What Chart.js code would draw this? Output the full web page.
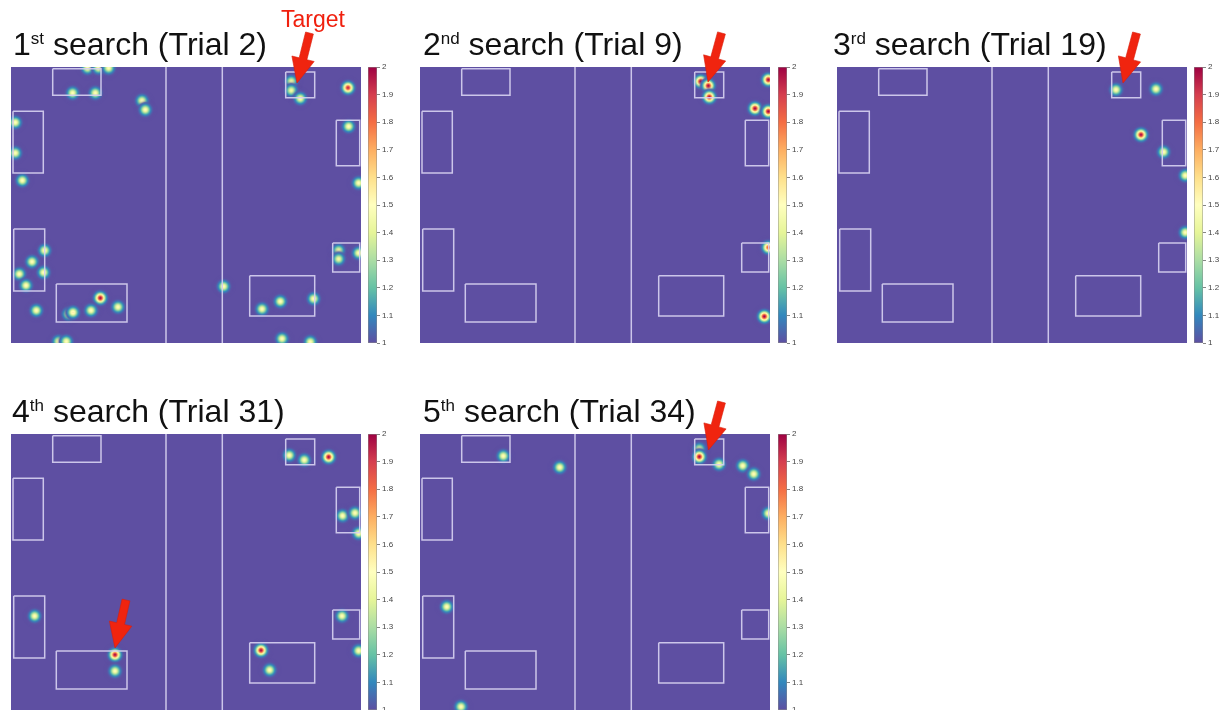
<!DOCTYPE html>
<html>
<head>
<meta charset="utf-8">
<script src="https://cdn.jsdelivr.net/npm/chart.js@4.4.1/dist/chart.umd.min.js"></script>
<style>
  html, body { margin: 0; padding: 0; background: #ffffff; width: 1232px; height: 710px; overflow: hidden; }
  .box { position: absolute; }
  .box canvas { display: block; }
  #overlay { position: absolute; left: 0; top: 0; width: 1232px; height: 710px; pointer-events: none; }
</style>
</head>
<body>
<div id="stage"></div>
<svg id="overlay" xmlns="http://www.w3.org/2000/svg" width="1232" height="710"></svg>
<script>
// ---- search headings ----
const searchNumbers = ['1', '2', '3', '4', '5'];
const ordinalSuffixes = ['st', 'nd', 'rd', 'th', 'th'];
const trialNumbers = [2, 9, 19, 31, 34];

// ---- room layout (x across, y down from the far wall) ----
const roomWidth = 350;
const roomDepth = 276;
const shelfX0 = [41.7, 2.0, 2.7, 45.3, 274.7, 325.3, 321.7, 238.7];
const shelfX1 = [90.0, 32.3, 33.7, 116.0, 303.7, 348.7, 348.7, 303.7];
const shelfY0 = [1.7, 44.3, 162.0, 217.0, 5.0, 53.3, 176.0, 208.7];
const shelfY1 = [28.3, 106.0, 224.0, 255.0, 30.7, 98.7, 205.0, 249.0];
const dividerX = [155.0, 211.3];

// ---- visited locations per search: position and peak intensity ----
const search1X = [76.6, 87.6, 97.6, 61.6, 84.3, 131.0, 134.3, 4.3, 4.3, 11.3, 33.6, 21.0, 8.3, 32.6, 15.0, 25.3, 89.3, 107.0, 80.0, 57.6, 62.0, 47.6, 55.3, 212.6, 280.3, 280.3, 289.3, 337.0, 337.6, 347.6, 327.6, 327.6, 347.6, 302.6, 269.3, 251.0, 271.0, 299.3];
const search1Y = [1.0, 1.0, 1.0, 26.0, 26.0, 33.7, 42.7, 55.4, 86.0, 113.4, 183.4, 194.7, 207.0, 205.4, 218.4, 243.4, 231.0, 240.0, 243.4, 247.0, 245.4, 274.4, 274.4, 219.4, 14.4, 23.4, 31.4, 20.7, 59.4, 116.0, 183.4, 192.0, 186.0, 231.7, 234.4, 242.0, 271.7, 275.0];
const search1Peak = [1.5, 1.5, 1.5, 1.5, 1.5, 1.5, 1.5, 1.5, 1.5, 1.5, 1.5, 1.5, 1.5, 1.5, 1.5, 1.5, 2.0, 1.5, 1.5, 1.55, 1.55, 1.5, 1.5, 1.5, 1.45, 1.45, 1.5, 1.95, 1.5, 1.5, 1.45, 1.45, 1.5, 1.5, 1.5, 1.5, 1.5, 1.5];

const search2X = [280.7, 288.3, 289.3, 348.3, 335.0, 348.3, 348.3, 344.3];
const search2Y = [14.4, 18.7, 30.0, 12.7, 41.4, 44.4, 180.4, 249.4];
const search2Peak = [2.0, 2.0, 2.0, 2.0, 2.0, 2.0, 1.85, 2.0];

const search3X = [279.0, 319.0, 304.0, 326.6, 348.3, 348.3];
const search3Y = [22.7, 22.0, 67.7, 85.0, 108.4, 165.4];
const search3Peak = [1.5, 1.5, 2.0, 1.5, 1.5, 1.5];

const search4X = [278.3, 293.3, 317.6, 331.6, 344.0, 347.6, 331.0, 347.6, 250.0, 258.6, 23.6, 104.0, 104.0];
const search4Y = [21.3, 26.0, 23.0, 81.7, 79.0, 99.3, 182.0, 216.7, 216.3, 236.0, 182.0, 220.7, 237.0];
const search4Peak = [1.5, 1.5, 2.0, 1.5, 1.5, 1.5, 1.5, 1.5, 2.0, 1.5, 1.5, 2.0, 1.5];

const search5X = [83.3, 139.7, 26.7, 41.0, 279.3, 279.3, 299.0, 322.7, 333.7, 348.3];
const search5Y = [22.0, 33.3, 172.7, 272.7, 15.0, 22.7, 30.3, 31.7, 40.0, 79.3];
const search5Peak = [1.5, 1.5, 1.5, 1.5, 1.45, 2.0, 1.5, 1.5, 1.5, 1.5];

// ---- colour scale ----
const colorMin = 1;
const colorMax = 2;
const colorTickStep = 0.1;

const searchX = [search1X, search2X, search3X, search4X, search5X];
const searchY = [search1Y, search2Y, search3Y, search4Y, search5Y];
const searchPeak = [search1Peak, search2Peak, search3Peak, search4Peak, search5Peak];

// spectral colour map, low (purple) to high (dark red)
const SPECTRAL = ['#5e4fa2', '#3288bd', '#66c2a5', '#abdda4', '#e6f598', '#ffffbf',
                  '#fee08b', '#fdae61', '#f46d43', '#d53e4f', '#9e0142'];
const SPECTRAL_RGB = SPECTRAL.map(h => [1, 3, 5].map(i => parseInt(h.substr(i, 2), 16)));
function spectral(v) {
  let t = (v - colorMin) / (colorMax - colorMin);
  t = Math.max(0, Math.min(1, t)) * (SPECTRAL_RGB.length - 1);
  const i = Math.min(Math.floor(t), SPECTRAL_RGB.length - 2);
  const f = t - i;
  const a = SPECTRAL_RGB[i], b = SPECTRAL_RGB[i + 1];
  return [0, 1, 2].map(k => Math.round(a[k] + (b[k] - a[k]) * f));
}

// Gaussian spot image for a given peak intensity
const SIGMA = 3.0;
const blobCache = {};
function blobImage(peak) {
  const key = peak.toFixed(3);
  if (blobCache[key]) return blobCache[key];
  const size = 25;
  const c = document.createElement('canvas');
  c.width = size; c.height = size;
  const g = c.getContext('2d');
  const img = g.createImageData(size, size);
  const ctr = size / 2;
  for (let y = 0; y < size; y++) {
    for (let x = 0; x < size; x++) {
      const dx = x + 0.5 - ctr, dy = y + 0.5 - ctr;
      const v = colorMin + (peak - colorMin) * Math.exp(-(dx * dx + dy * dy) / (2 * SIGMA * SIGMA));
      const rgb = spectral(v);
      const o = (y * size + x) * 4;
      img.data[o] = rgb[0]; img.data[o + 1] = rgb[1]; img.data[o + 2] = rgb[2];
      img.data[o + 3] = Math.round(255 * Math.min(1, (v - colorMin) * 30));
    }
  }
  g.putImageData(img, 0, 0);
  blobCache[key] = c;
  return c;
}

const FIELD_BG = '#5e4fa2';
const OUTLINE = 'rgba(214, 208, 240, 0.92)';

const fieldBackground = {
  id: 'fieldBackground',
  beforeDatasetsDraw(chart) {
    const a = chart.chartArea, ctx = chart.ctx;
    ctx.save();
    ctx.fillStyle = FIELD_BG;
    ctx.fillRect(a.left, a.top, a.right - a.left, a.bottom - a.top);
    ctx.restore();
  }
};

const stage = document.getElementById('stage');
function addCanvas(left, top, w, h) {
  const d = document.createElement('div');
  d.className = 'box';
  d.style.left = left + 'px'; d.style.top = top + 'px';
  d.style.width = w + 'px'; d.style.height = h + 'px';
  const c = document.createElement('canvas');
  c.width = w; c.height = h;
  c.style.width = w + 'px'; c.style.height = h + 'px';
  d.appendChild(c);
  stage.appendChild(d);
  return c;
}

function drawField(k, left, top) {
  const canvas = addCanvas(left, top, roomWidth, roomDepth);
  const datasets = [];
  for (let i = 0; i < shelfX0.length; i++) {
    datasets.push({
      type: 'line',
      data: [
        { x: shelfX0[i], y: shelfY0[i] }, { x: shelfX1[i], y: shelfY0[i] },
        { x: shelfX1[i], y: shelfY1[i] }, { x: shelfX0[i], y: shelfY1[i] },
        { x: shelfX0[i], y: shelfY0[i] }
      ],
      borderColor: OUTLINE, borderWidth: 1.5, pointRadius: 0, tension: 0, fill: false, clip: 0
    });
  }
  dividerX.forEach(x => {
    datasets.push({
      type: 'line',
      data: [{ x: x, y: 0 }, { x: x, y: roomDepth }],
      borderColor: OUTLINE, borderWidth: 1.5, pointRadius: 0, fill: false, clip: 0
    });
  });
  const pts = searchX[k].map((x, i) => ({ x: x, y: searchY[k][i], v: searchPeak[k][i] }));
  datasets.push({
    type: 'scatter',
    data: pts,
    pointStyle: ctx => blobImage(ctx.raw ? ctx.raw.v : 1.5),
    pointRadius: 12,
    clip: 0
  });
  new Chart(canvas, {
    type: 'scatter',
    data: { datasets: datasets },
    options: {
      responsive: false, animation: false, events: [],
      layout: { padding: 0, autoPadding: false },
      plugins: { legend: { display: false }, tooltip: { enabled: false }, title: { display: false } },
      scales: {
        x: { type: 'linear', min: 0, max: roomWidth, display: false },
        y: { type: 'linear', min: 0, max: roomDepth, reverse: true, display: false }
      }
    },
    plugins: [fieldBackground]
  });
}

function drawColorbar(left, top) {
  const pad = 10, barW = 9, axisW = 31;
  const canvas = addCanvas(left, top - pad, barW + axisW, roomDepth + 2 * pad);
  new Chart(canvas, {
    type: 'bar',
    data: {
      labels: ['scale'],
      datasets: [{
        data: [[colorMin, colorMax]],
        backgroundColor: ctx => {
          const area = ctx.chart.chartArea;
          if (!area) return SPECTRAL[0];
          const g = ctx.chart.ctx.createLinearGradient(0, area.bottom, 0, area.top);
          SPECTRAL.forEach((c, i) => g.addColorStop(i / (SPECTRAL.length - 1), c));
          return g;
        },
        borderColor: '#8a8a8a', borderWidth: 0.8, borderSkipped: false,
        barPercentage: 1, categoryPercentage: 1
      }]
    },
    options: {
      responsive: false, animation: false, events: [],
      layout: { padding: { top: pad, bottom: pad, left: 0, right: 0 }, autoPadding: false },
      plugins: { legend: { display: false }, tooltip: { enabled: false } },
      scales: {
        x: { display: false },
        y: {
          position: 'right', min: colorMin, max: colorMax,
          afterFit: s => { s.width = axisW; },
          grid: { drawOnChartArea: false, drawTicks: true, tickLength: 3, color: '#666', lineWidth: 0.8 },
          border: { display: false },
          ticks: {
            stepSize: colorTickStep, padding: 2, color: '#444',
            font: { family: 'Liberation Sans, Arial, sans-serif', size: 8 },
            callback: v => String(Math.round(v * 10) / 10)
          }
        }
      }
    }
  });
}

// panel placement: top row three, bottom row two
const fieldLeft = [11, 420, 837, 11, 420];
const fieldTop = [67, 67, 67, 434, 434];
const barLeft = [368, 778, 1194, 368, 778];
for (let k = 0; k < 5; k++) {
  drawField(k, fieldLeft[k], fieldTop[k]);
  drawColorbar(barLeft[k], fieldTop[k]);
}

// ---- headings, target label and arrows ----
const NS = 'http://www.w3.org/2000/svg';
const svg = document.getElementById('overlay');
const titleLeft = [13, 423, 833, 12, 423];
const titleBase = [55, 55, 55, 422, 422];
function el(name, attrs, text) {
  const e = document.createElementNS(NS, name);
  for (const k in attrs) e.setAttribute(k, attrs[k]);
  if (text !== undefined) e.textContent = text;
  return e;
}
for (let k = 0; k < 5; k++) {
  const t = el('text', { x: titleLeft[k], y: titleBase[k], 'font-family': 'Liberation Sans, Arial, sans-serif', 'font-size': 32, fill: '#111' });
  t.appendChild(el('tspan', {}, searchNumbers[k]));
  t.appendChild(el('tspan', { 'font-size': 17, dy: -11 }, ordinalSuffixes[k]));
  t.appendChild(el('tspan', { dy: 11 }, ' search (Trial ' + trialNumbers[k] + ')'));
  svg.appendChild(t);
}
svg.appendChild(el('text', { x: 281, y: 27, 'font-family': 'Liberation Sans, Arial, sans-serif', 'font-size': 23, fill: '#f0200e' }, 'Target'));

function arrow(x0, y0, x1, y1) {
  const shaft = 8, headW = 23, headL = 25;
  const dx = x1 - x0, dy = y1 - y0, L = Math.hypot(dx, dy);
  const ux = dx / L, uy = dy / L, px = -uy, py = ux;
  const bx = x1 - ux * headL, by = y1 - uy * headL;
  const p = [
    [x0 + px * shaft / 2, y0 + py * shaft / 2],
    [bx + px * shaft / 2, by + py * shaft / 2],
    [bx + px * headW / 2, by + py * headW / 2],
    [x1, y1],
    [bx - px * headW / 2, by - py * headW / 2],
    [bx - px * shaft / 2, by - py * shaft / 2],
    [x0 - px * shaft / 2, y0 - py * shaft / 2]
  ];
  svg.appendChild(el('polygon', { points: p.map(q => q[0].toFixed(1) + ',' + q[1].toFixed(1)).join(' '), fill: '#f0240f', stroke: '#d81e0c', 'stroke-width': 0.6 }));
}
arrow(309.5, 33, 297, 83);
arrow(721.5, 33, 708, 82);
arrow(1136.5, 33, 1123, 83);
arrow(126, 600, 115, 648);
arrow(721.5, 402, 708.5, 450);
</script>
</body>
</html>
